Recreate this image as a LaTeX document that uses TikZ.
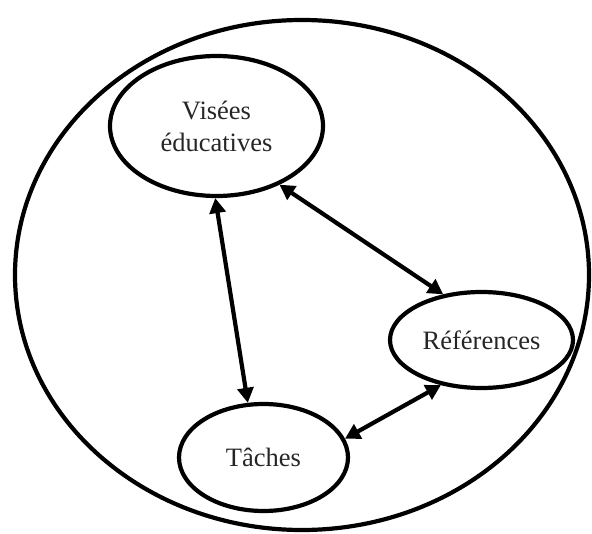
\documentclass[tikz,border=0pt]{standalone}
\usepackage{fontspec}
\setmainfont{Liberation Serif}
\usetikzlibrary{shapes.geometric,arrows.meta}
\begin{document}
\begin{tikzpicture}[x=1pt,y=-1pt,
  bubble/.style={ellipse,draw,line width=4.2pt,inner sep=0pt,
     font=\fontsize{26.5}{32}\selectfont,align=center,text=black!85},
  link/.style={line width=4.2pt,{Triangle[length=15pt,width=16pt]}-{Triangle[length=15pt,width=16pt]}}]
\useasboundingbox (0,0) rectangle (592,534);
\node[ellipse,draw,line width=4.2pt,minimum width=574pt,minimum height=510pt] (outer) at (302,275) {};
\node[bubble,minimum width=213pt,minimum height=140pt] (vis) at (216.5,126) {Visées\\éducatives};
\node[bubble,minimum width=183pt,minimum height=96pt] (ref) at (481.5,340) {Références};
\node[bubble,minimum width=169pt,minimum height=107pt] (tac) at (263.5,457.5) {Tâches};
\draw[link] (vis.-91) -- (tac.106);
\draw[link] (vis.-43) -- (ref.130);
\draw[link] (tac.13) -- (ref.228);
\end{tikzpicture}
\end{document}
